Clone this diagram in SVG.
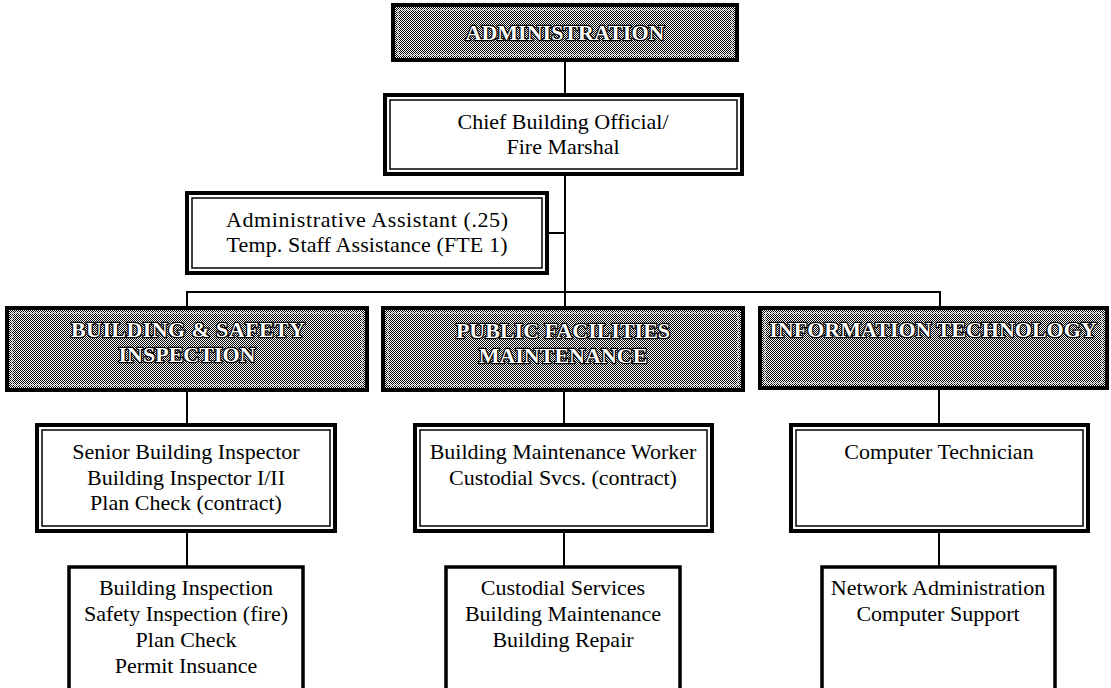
<svg xmlns="http://www.w3.org/2000/svg" width="1111" height="688" viewBox="0 0 1111 688">
<defs>
<pattern id="dither" width="2" height="2" patternUnits="userSpaceOnUse">
<rect width="2" height="2" fill="#ffffff"/>
<rect x="0" y="0" width="1" height="1" fill="#000"/>
<rect x="1" y="1" width="1" height="1" fill="#000"/>
</pattern>
<style>
.outer{fill:#fff;stroke:#000;stroke-width:4}
.inner{fill:none;stroke:#000;stroke-width:1.5}
.gray{fill:url(#dither);stroke:#000;stroke-width:4}
.ginner{fill:none;stroke:#fff;stroke-width:1;stroke-dasharray:2 1}
.single{fill:#fff;stroke:#000;stroke-width:3.5}
.t{font-family:"Liberation Serif","Times New Roman",serif;font-size:22px;fill:#000;text-anchor:middle}
.h{font-family:"Liberation Serif","Times New Roman",serif;font-size:22px;font-weight:bold;fill:#fff;stroke:#000;stroke-width:2.5;paint-order:stroke;text-anchor:middle}
.c{fill:none;stroke:#000;stroke-width:2}
</style>
</defs>
<g id="connectors">
<line class="c" x1="565" y1="60" x2="565" y2="95"/>
<line class="c" x1="565" y1="174" x2="565" y2="308"/>
<line class="c" x1="547" y1="233" x2="565" y2="233"/>
<polyline class="c" points="187,308 187,292 940,292 940,308"/>
<line class="c" x1="187" y1="390" x2="187" y2="425"/>
<line class="c" x1="564" y1="390" x2="564" y2="425"/>
<line class="c" x1="939" y1="388" x2="939" y2="425"/>
<line class="c" x1="187" y1="531" x2="187" y2="567"/>
<line class="c" x1="564" y1="531" x2="564" y2="567"/>
<line class="c" x1="939" y1="531" x2="939" y2="567"/>
</g>
<g id="administration">
<rect class="gray" x="393" y="5" width="344" height="55"/>
<rect class="ginner" x="398" y="10" width="334" height="45"/>
<text class="h" x="565" y="40">ADMINISTRATION</text>
</g>
<g id="chief">
<rect class="outer" x="385" y="95" width="357" height="79"/>
<rect class="inner" x="390" y="100" width="347" height="69"/>
<text class="t" x="563" y="129">Chief Building Official/</text>
<text class="t" x="563" y="154">Fire Marshal</text>
</g>
<g id="assistant">
<rect class="outer" x="187" y="193" width="360" height="80"/>
<rect class="inner" x="192" y="198" width="350" height="70"/>
<text class="t" x="367" y="227" textLength="282" lengthAdjust="spacing">Administrative Assistant (.25)</text>
<text class="t" x="367" y="252" textLength="281" lengthAdjust="spacing">Temp. Staff Assistance (FTE 1)</text>
</g>
<g id="building-safety">
<rect class="gray" x="7" y="308" width="360" height="82"/>
<rect class="ginner" x="12" y="313" width="350" height="72"/>
<text class="h" x="188" y="337" textLength="234" lengthAdjust="spacing">BUILDING &amp; SAFETY</text>
<text class="h" x="187" y="362">INSPECTION</text>
</g>
<g id="public-facilities">
<rect class="gray" x="383" y="308" width="360" height="82"/>
<rect class="ginner" x="388" y="313" width="350" height="72"/>
<text class="h" x="563" y="338">PUBLIC FACILITIES</text>
<text class="h" x="563" y="363">MAINTENANCE</text>
</g>
<g id="information-technology">
<rect class="gray" x="760" y="308" width="347" height="80"/>
<rect class="ginner" x="765" y="313" width="337" height="70"/>
<text class="h" x="933" y="337">INFORMATION TECHNOLOGY</text>
</g>
<g id="bsi-staff">
<rect class="outer" x="37" y="425" width="298" height="106"/>
<rect class="inner" x="42" y="430" width="288" height="96"/>
<text class="t" x="186" y="459">Senior Building Inspector</text>
<text class="t" x="186" y="485">Building Inspector I/II</text>
<text class="t" x="186" y="510">Plan Check (contract)</text>
</g>
<g id="pfm-staff">
<rect class="outer" x="415" y="425" width="297" height="106"/>
<rect class="inner" x="420" y="430" width="287" height="96"/>
<text class="t" x="563" y="459">Building Maintenance Worker</text>
<text class="t" x="563" y="485">Custodial Svcs. (contract)</text>
</g>
<g id="it-staff">
<rect class="outer" x="791" y="425" width="297" height="106"/>
<rect class="inner" x="796" y="430" width="287" height="96"/>
<text class="t" x="939" y="459">Computer Technician</text>
</g>
<g id="bsi-services">
<rect class="single" x="69" y="567" width="234" height="140"/>
<text class="t" x="186" y="595">Building Inspection</text>
<text class="t" x="186" y="621">Safety Inspection (fire)</text>
<text class="t" x="186" y="647">Plan Check</text>
<text class="t" x="186" y="673">Permit Insuance</text>
</g>
<g id="pfm-services">
<rect class="single" x="446" y="567" width="234" height="140"/>
<text class="t" x="563" y="595">Custodial Services</text>
<text class="t" x="563" y="621">Building Maintenance</text>
<text class="t" x="563" y="647">Building Repair</text>
</g>
<g id="it-services">
<rect class="single" x="822" y="567" width="233" height="140"/>
<text class="t" x="938" y="595">Network Administration</text>
<text class="t" x="938" y="621">Computer Support</text>
</g>
</svg>
